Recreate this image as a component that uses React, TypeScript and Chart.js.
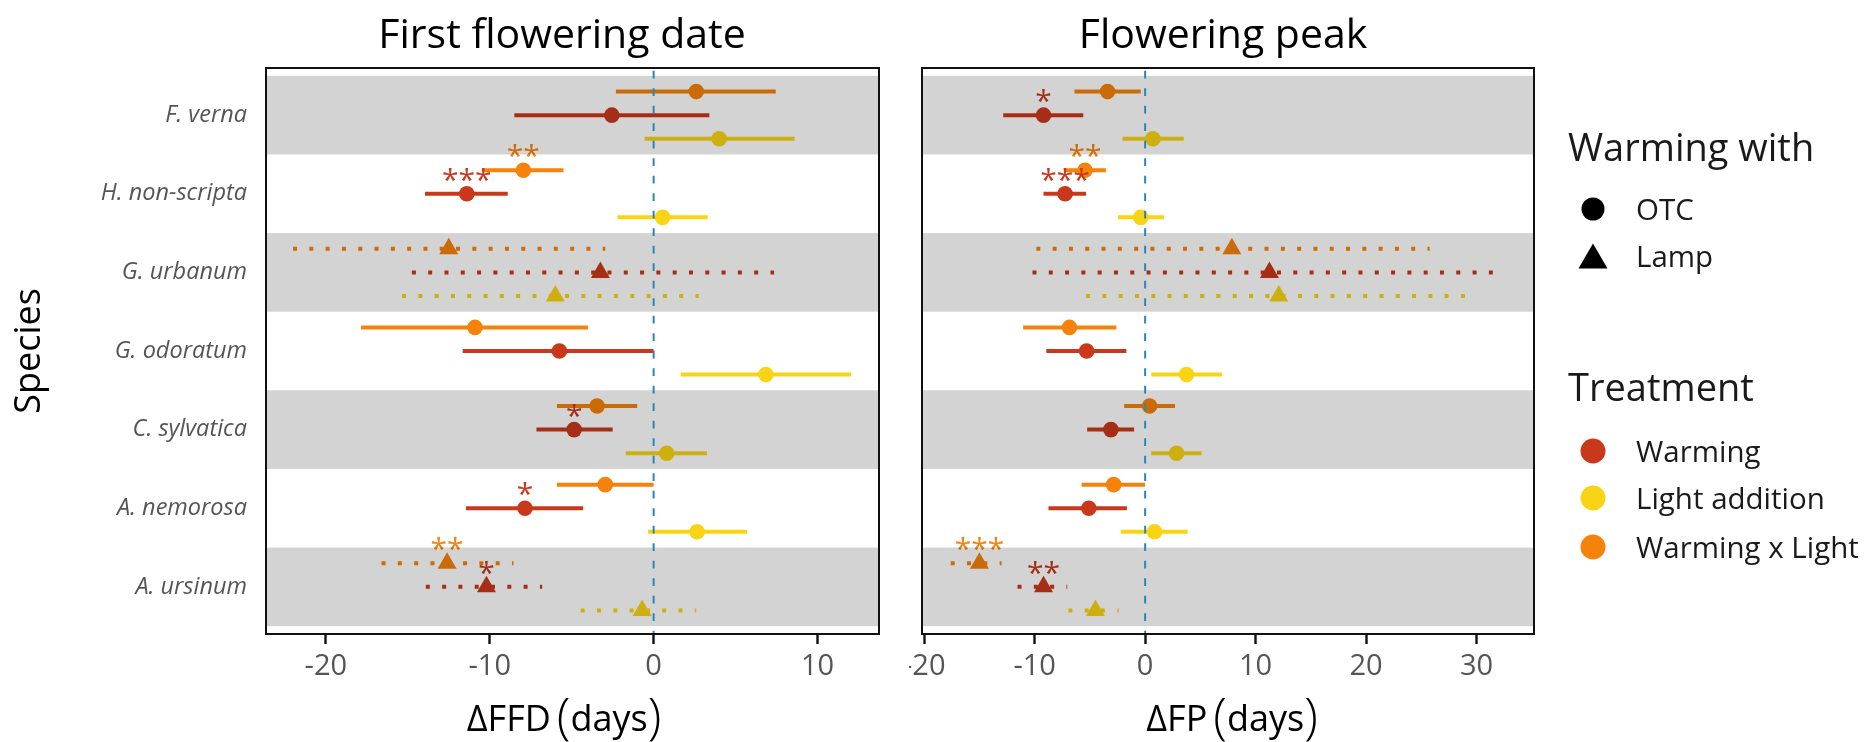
import React, { useEffect, useRef } from 'react';
import { Chart, registerables } from 'chart.js';

Chart.register(...registerables);

const FONT = '"Open Sans", "DejaVu Sans", sans-serif';

// ---------------- data ----------------
const SPECIES = ['F. verna', 'H. non-scripta', 'G. urbanum', 'G. odoratum', 'C. sylvatica', 'A. nemorosa', 'A. ursinum'];
const WARMING_WITH = ['OTC', 'OTC', 'Lamp', 'OTC', 'OTC', 'OTC', 'Lamp'];
const TREATMENTS = ['Warming', 'Light addition', 'Warming x Light'];
const TREATMENT_COLORS = ['#c9381a', '#f9d414', '#f5820a'];
const DODGE = [0, 0.3, -0.3];

// First flowering date (ΔFFD, days)
const FFD_WARM_EST = [-2.55, -11.4, -3.25, -5.75, -4.85, -7.85, -10.2];
const FFD_WARM_LO = [-8.5, -13.95, -14.75, -11.65, -7.15, -11.45, -13.9];
const FFD_WARM_HI = [3.4, -8.9, 7.35, 0.0, -2.5, -4.3, -6.8];
const FFD_WARM_SIG = ['', '***', '', '', '*', '*', '*'];
const FFD_LIGHT_EST = [4.0, 0.55, -6.0, 6.85, 0.8, 2.65, -0.7];
const FFD_LIGHT_LO = [-0.55, -2.2, -15.35, 1.65, -1.7, -0.35, -4.45];
const FFD_LIGHT_HI = [8.6, 3.3, 2.75, 12.05, 3.25, 5.7, 2.6];
const FFD_LIGHT_SIG = ['', '', '', '', '', '', ''];
const FFD_WXL_EST = [2.6, -7.95, -12.5, -10.9, -3.45, -2.95, -12.6];
const FFD_WXL_LO = [-2.3, -10.45, -22.0, -17.85, -5.9, -5.9, -16.6];
const FFD_WXL_HI = [7.45, -5.5, -2.95, -4.0, -1.0, 0.0, -8.55];
const FFD_WXL_SIG = ['', '**', '', '', '', '', '**'];

// Flowering peak (ΔFP, days)
const FP_WARM_EST = [-9.2, -7.25, 11.25, -5.3, -3.1, -5.1, -9.2];
const FP_WARM_LO = [-12.85, -9.2, -10.2, -8.95, -5.25, -8.75, -11.55];
const FP_WARM_HI = [-5.6, -5.35, 31.6, -1.7, -1.0, -1.65, -7.05];
const FP_WARM_SIG = ['*', '***', '', '', '', '', '**'];
const FP_LIGHT_EST = [0.7, -0.4, 12.1, 3.75, 2.85, 0.85, -4.5];
const FP_LIGHT_LO = [-2.05, -2.45, -5.35, 0.55, 0.55, -2.2, -6.95];
const FP_LIGHT_HI = [3.5, 1.7, 29.0, 6.95, 5.1, 3.85, -2.4];
const FP_LIGHT_SIG = ['', '', '', '', '', '', ''];
const FP_WXL_EST = [-3.4, -5.45, 7.85, -6.85, 0.4, -2.85, -15.0];
const FP_WXL_LO = [-6.4, -7.35, -9.85, -11.05, -1.9, -5.75, -17.6];
const FP_WXL_HI = [-0.4, -3.55, 25.75, -2.6, 2.7, 0.0, -13.0];
const FP_WXL_SIG = ['', '**', '', '', '', '', '***'];

const FFD_TICKS = [-20, -10, 0, 10];
const FP_TICKS = [-20, -10, 0, 10, 20, 30];
const FFD_LIMITS = [-23.65, 13.75];
const FP_LIMITS = [-20.2, 35.2];

type Series = { est: number[]; lo: number[]; hi: number[]; sig: string[] };

const FFD_SERIES: Series[] = [
  { est: FFD_WARM_EST, lo: FFD_WARM_LO, hi: FFD_WARM_HI, sig: FFD_WARM_SIG },
  { est: FFD_LIGHT_EST, lo: FFD_LIGHT_LO, hi: FFD_LIGHT_HI, sig: FFD_LIGHT_SIG },
  { est: FFD_WXL_EST, lo: FFD_WXL_LO, hi: FFD_WXL_HI, sig: FFD_WXL_SIG },
];
const FP_SERIES: Series[] = [
  { est: FP_WARM_EST, lo: FP_WARM_LO, hi: FP_WARM_HI, sig: FP_WARM_SIG },
  { est: FP_LIGHT_EST, lo: FP_LIGHT_LO, hi: FP_LIGHT_HI, sig: FP_LIGHT_SIG },
  { est: FP_WXL_EST, lo: FP_WXL_LO, hi: FP_WXL_HI, sig: FP_WXL_SIG },
];

// ---------------- layout ----------------
const W = 1868;
const H = 742;
const PANEL_TOP = 68;
const PANEL_BOTTOM = 634;
const LEFT_CANVAS = { left: 0, width: 900 };
const RIGHT_CANVAS = { left: 909, width: W - 909 };

function buildDatasets(series: Series[]) {
  const ds: any[] = [];
  series.forEach((s, t) => {
    const color = TREATMENT_COLORS[t];
    ds.push({
      label: TREATMENTS[t],
      data: SPECIES.map((_, i) => ({ x: s.est[i], y: i + 1 + DODGE[t] })),
      backgroundColor: color,
      borderColor: color,
      borderWidth: 0,
      pointStyle: WARMING_WITH.map((w) => (w === 'Lamp' ? 'triangle' : 'circle')),
      pointRadius: WARMING_WITH.map((w) => (w === 'Lamp' ? 11 : 7.8)),
      order: 0,
    });
    SPECIES.forEach((sp, i) => {
      ds.push({
        label: `${TREATMENTS[t]} – ${sp}`,
        data: [
          { x: s.lo[i], y: i + 1 + DODGE[t] },
          { x: s.hi[i], y: i + 1 + DODGE[t] },
        ],
        showLine: true,
        borderColor: color,
        backgroundColor: color,
        borderWidth: 4,
        borderDash: WARMING_WITH[i] === 'Lamp' ? [4, 12.3] : [],
        borderCapStyle: 'butt',
        pointRadius: 0,
        order: 1,
      });
    });
  });
  return ds;
}

type PanelOpts = {
  series: Series[];
  limits: number[];
  ticks: number[];
  title: string;
  titleCenter: number; // absolute page x
  xTitle: string;
  xTitleCenter: number; // absolute page x
  showY: boolean;
  canvas: { left: number; width: number };
  plotLeft: number; // absolute
  plotRight: number; // absolute
  legend: boolean;
};

function drawAxisTitle(ctx: CanvasRenderingContext2D, label: string, center: number) {
  // "ΔXX (days)" with tall parentheses, as in the plotmath original
  const small = `36px ${FONT}`;
  const big = `300 50px ${FONT}`;
  const base = 731;
  ctx.font = small;
  const wLab = ctx.measureText(label).width;
  const wDays = ctx.measureText('days').width;
  ctx.font = big;
  const wL = ctx.measureText('(').width;
  const wR = ctx.measureText(')').width;
  const gap = 6;
  const total = wLab + gap + wL + wDays + wR;
  let x = center - total / 2;
  ctx.textAlign = 'left';
  ctx.textBaseline = 'alphabetic';
  ctx.fillStyle = '#000';
  ctx.font = small;
  ctx.fillText(label, x, base);
  x += wLab + gap;
  ctx.font = big;
  ctx.fillText('(', x, base + 3);
  x += wL;
  ctx.font = small;
  ctx.fillText('days', x, base);
  x += wDays;
  ctx.font = big;
  ctx.fillText(')', x, base + 3);
}

function decoPlugin(p: PanelOpts) {
  return {
    id: 'panelDeco',
    afterDatasetsDraw(chart: any) {
      const { ctx, chartArea: ca, scales } = chart;
      const x = scales.x;
      const y = scales.y;
      ctx.save();
      // significance stars
      ctx.font = `30px ${FONT}`;
      ctx.textAlign = 'center';
      ctx.textBaseline = 'alphabetic';
      p.series.forEach((s, t) => {
        s.sig.forEach((sig, i) => {
          if (!sig) return;
          const px = x.getPixelForValue(s.est[i]);
          const py = y.getPixelForValue(i + 1 + DODGE[t]);
          ctx.fillStyle = TREATMENT_COLORS[t];
          ctx.fillText(sig, px, py - 4);
        });
      });
      // alternating species bands (translucent, drawn over the marks)
      ctx.fillStyle = 'rgba(0,0,0,0.172)';
      SPECIES.forEach((_, i) => {
        if (i % 2 !== 0) return;
        const top = y.getPixelForValue(i + 0.5);
        const bot = y.getPixelForValue(i + 1.5);
        ctx.fillRect(ca.left, top, ca.right - ca.left, bot - top);
      });
      // zero reference line
      const zx = x.getPixelForValue(0);
      ctx.strokeStyle = '#2a86b8';
      ctx.lineWidth = 2;
      ctx.setLineDash([7.7, 9.8]);
      ctx.lineDashOffset = 14.7;
      ctx.beginPath();
      ctx.moveTo(zx, ca.top);
      ctx.lineTo(zx, ca.bottom);
      ctx.stroke();
      // panel border
      ctx.setLineDash([]);
      ctx.strokeStyle = '#111';
      ctx.lineWidth = 2;
      ctx.strokeRect(ca.left, ca.top, ca.right - ca.left, ca.bottom - ca.top);
      ctx.restore();
    },
    afterDraw(chart: any) {
      const { ctx } = chart;
      const ox = p.canvas.left;
      ctx.save();
      ctx.fillStyle = '#000';
      ctx.font = `41px ${FONT}`;
      ctx.textAlign = 'center';
      ctx.textBaseline = 'alphabetic';
      ctx.fillText(p.title, p.titleCenter - ox, 47.5);
      drawAxisTitle(ctx, p.xTitle, p.xTitleCenter - ox);
      if (p.legend) {
        ctx.textAlign = 'left';
        ctx.fillStyle = '#1a1a1a';
        ctx.font = `38px ${FONT}`;
        ctx.fillText('Warming with', 1568 - ox, 161);
        ctx.fillText('Treatment', 1568 - ox, 401);
        const mx = 1593 - ox;
        const tx = 1636 - ox;
        ctx.font = `29.5px ${FONT}`;
        // shape legend
        ctx.fillStyle = '#000';
        ctx.beginPath();
        ctx.arc(mx, 209, 11.5, 0, Math.PI * 2);
        ctx.fill();
        ctx.beginPath();
        ctx.moveTo(mx, 243.5);
        ctx.lineTo(mx + 14.5, 268.5);
        ctx.lineTo(mx - 14.5, 268.5);
        ctx.closePath();
        ctx.fill();
        ctx.fillStyle = '#1a1a1a';
        ctx.fillText('OTC', tx, 219.5);
        ctx.fillText('Lamp', tx, 266.5);
        // colour legend
        const ys = [451, 498, 547];
        TREATMENTS.forEach((name, t) => {
          ctx.fillStyle = TREATMENT_COLORS[t];
          ctx.beginPath();
          ctx.arc(mx, ys[t], 12.5, 0, Math.PI * 2);
          ctx.fill();
          ctx.fillStyle = '#1a1a1a';
          ctx.fillText(name, tx, ys[t] + 10.5);
        });
      }
      ctx.restore();
    },
  };
}

function makeConfig(p: PanelOpts): any {
  const padLeft = p.showY ? 0 : p.plotLeft - p.canvas.left;
  const padRight = p.canvas.left + p.canvas.width - p.plotRight;
  return {
    type: 'scatter',
    data: { datasets: buildDatasets(p.series) },
    options: {
      responsive: false,
      animation: false,
      devicePixelRatio: 1,
      events: [],
      layout: { padding: { left: padLeft, right: padRight, top: PANEL_TOP, bottom: 0 } },
      plugins: {
        legend: { display: false },
        tooltip: { enabled: false },
        title: { display: false },
      },
      scales: {
        x: {
          type: 'linear',
          position: 'bottom',
          min: p.limits[0],
          max: p.limits[1],
          afterBuildTicks: (s: any) => {
            s.ticks = p.ticks.map((v) => ({ value: v }));
          },
          afterFit: (s: any) => {
            s.height = H - PANEL_BOTTOM;
            s.paddingLeft = 0;
            s.paddingRight = 0;
          },
          ticks: {
            autoSkip: false,
            maxRotation: 0,
            minRotation: 0,
            padding: 5,
            color: '#555555',
            font: { family: FONT, size: 29 },
            callback: (v: any) => String(v),
          },
          grid: {
            display: true,
            drawOnChartArea: false,
            drawTicks: true,
            tickLength: 10,
            tickColor: '#111',
            tickWidth: 2.4,
          },
          border: { display: false },
          title: { display: false },
        },
        y: {
          type: 'linear',
          position: 'left',
          reverse: true,
          min: 0.4,
          max: 7.6,
          display: p.showY,
          afterBuildTicks: (s: any) => {
            s.ticks = SPECIES.map((_, i) => ({ value: i + 1 }));
          },
          afterFit: (s: any) => {
            s.width = p.showY ? p.plotLeft - p.canvas.left : 0;
            s.paddingTop = 0;
            s.paddingBottom = 0;
          },
          ticks: {
            autoSkip: false,
            padding: 19,
            color: '#555555',
            font: { family: FONT, size: 23.5, style: 'italic' },
            callback: (v: any) => SPECIES[Math.round(Number(v)) - 1] ?? '',
          },
          grid: { display: false, drawTicks: false },
          border: { display: false },
          title: {
            display: p.showY,
            text: 'Species',
            color: '#000',
            font: { family: FONT, size: 36 },
            padding: { top: 8, bottom: 0 },
          },
        },
      },
    },
    plugins: [decoPlugin(p)],
  };
}

export default function App() {
  const leftRef = useRef<HTMLCanvasElement>(null);
  const rightRef = useRef<HTMLCanvasElement>(null);

  useEffect(() => {
    const c1 = new Chart(
      leftRef.current as HTMLCanvasElement,
      makeConfig({
        series: FFD_SERIES,
        limits: FFD_LIMITS,
        ticks: FFD_TICKS,
        title: 'First flowering date',
        titleCenter: 562,
        xTitle: 'ΔFFD',
        xTitleCenter: 564,
        showY: true,
        canvas: LEFT_CANVAS,
        plotLeft: 266,
        plotRight: 879,
        legend: false,
      })
    );
    const c2 = new Chart(
      rightRef.current as HTMLCanvasElement,
      makeConfig({
        series: FP_SERIES,
        limits: FP_LIMITS,
        ticks: FP_TICKS,
        title: 'Flowering peak',
        titleCenter: 1223,
        xTitle: 'ΔFP',
        xTitleCenter: 1232,
        showY: false,
        canvas: RIGHT_CANVAS,
        plotLeft: 922,
        plotRight: 1534,
        legend: true,
      })
    );
    return () => {
      c1.destroy();
      c2.destroy();
    };
  }, []);

  return (
    <div style={{ position: 'absolute', left: 0, top: 0, width: W, height: H, background: '#fff', overflow: 'hidden' }}>
      <canvas
        ref={leftRef}
        width={LEFT_CANVAS.width}
        height={H}
        style={{ position: 'absolute', left: LEFT_CANVAS.left, top: 0, width: LEFT_CANVAS.width, height: H }}
      />
      <canvas
        ref={rightRef}
        width={RIGHT_CANVAS.width}
        height={H}
        style={{ position: 'absolute', left: RIGHT_CANVAS.left, top: 0, width: RIGHT_CANVAS.width, height: H }}
      />
    </div>
  );
}
